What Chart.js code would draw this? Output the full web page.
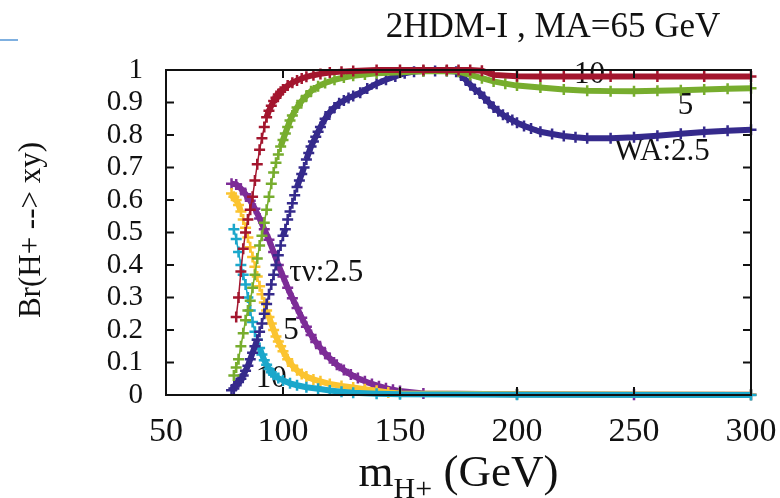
<!DOCTYPE html>
<html>
<head>
<meta charset="utf-8">
<script src="https://cdn.jsdelivr.net/npm/chart.js@4/dist/chart.umd.min.js"></script>
<style>
  body { margin: 0; background: #fff; }
  canvas { display: block; }
</style>
</head>
<body>
<canvas id="brChart" width="780" height="498"></canvas>
<script>
// x ticks and y ticks
const xTicks = [50, 100, 150, 200, 250, 300];
const yTicks = [0, 0.1, 0.2, 0.3, 0.4, 0.5, 0.6, 0.7, 0.8, 0.9, 1];

// WA, tan(beta)=10
const wa10X = [80, 81, 82, 83, 84, 85, 86, 87, 88, 89, 90, 91, 92, 93, 94, 95, 96, 97, 98, 99, 100, 102, 104, 106, 108, 110, 113, 116, 120, 125, 130, 140, 150, 160, 170, 175, 180, 185, 190, 200, 210, 220, 240, 260, 280, 300];
const wa10Y = [0.24, 0.30, 0.38, 0.45, 0.50, 0.54, 0.57, 0.61, 0.66, 0.71, 0.755, 0.79, 0.825, 0.855, 0.875, 0.89, 0.905, 0.915, 0.925, 0.933, 0.94, 0.952, 0.961, 0.968, 0.974, 0.979, 0.984, 0.988, 0.992, 0.995, 0.997, 1.0, 1.0, 1.0, 1.0, 1.0, 1.0, 0.998, 0.985, 0.981, 0.98, 0.98, 0.98, 0.98, 0.98, 0.98];

// WA, tan(beta)=5
const wa5X = [79, 80, 81, 82, 83, 84, 85, 86, 87, 88, 89, 90, 91, 92, 93, 94, 95, 96, 97, 98, 99, 100, 101, 102, 103, 104, 106, 108, 110, 112, 115, 118, 122, 126, 130, 135, 140, 150, 160, 170, 175, 180, 185, 190, 195, 200, 210, 220, 230, 240, 250, 260, 270, 280, 290, 300];
const wa5Y = [0.06, 0.085, 0.11, 0.15, 0.19, 0.23, 0.26, 0.29, 0.33, 0.37, 0.42, 0.46, 0.49, 0.53, 0.57, 0.61, 0.65, 0.685, 0.715, 0.74, 0.765, 0.785, 0.805, 0.825, 0.845, 0.86, 0.885, 0.905, 0.92, 0.935, 0.95, 0.96, 0.97, 0.977, 0.982, 0.986, 0.99, 0.993, 0.996, 0.997, 0.995, 0.985, 0.975, 0.965, 0.958, 0.952, 0.946, 0.94, 0.936, 0.935, 0.935, 0.936, 0.938, 0.94, 0.942, 0.944];

// WA, tan(beta)=2.5
const wa25X = [78, 79, 80, 81, 82, 83, 84, 85, 86, 87, 88, 89, 90, 91, 92, 93, 94, 95, 96, 97, 98, 99, 100, 101, 102, 103, 104, 105, 106, 107, 108, 109, 110, 111, 112, 113, 114, 115, 116, 118, 120, 122, 124, 126, 128, 130, 133, 136, 140, 144, 148, 152, 156, 160, 165, 170, 174, 176, 178, 180, 182, 184, 186, 188, 190, 192, 194, 196, 198, 200, 203, 206, 210, 215, 220, 225, 230, 240, 250, 260, 270, 280, 290, 300];
const wa25Y = [0.015, 0.02, 0.03, 0.04, 0.05, 0.06, 0.075, 0.09, 0.11, 0.13, 0.15, 0.17, 0.195, 0.22, 0.25, 0.28, 0.31, 0.34, 0.37, 0.40, 0.43, 0.46, 0.49, 0.51, 0.54, 0.565, 0.59, 0.615, 0.64, 0.66, 0.68, 0.70, 0.725, 0.745, 0.765, 0.78, 0.795, 0.81, 0.825, 0.85, 0.87, 0.885, 0.898, 0.906, 0.914, 0.92, 0.93, 0.943, 0.958, 0.97, 0.98, 0.99, 0.995, 0.997, 0.997, 0.997, 0.995, 0.985, 0.97, 0.955, 0.94, 0.93, 0.915, 0.9, 0.885, 0.873, 0.862, 0.853, 0.846, 0.838, 0.828, 0.82, 0.81, 0.803, 0.797, 0.793, 0.79, 0.79, 0.793, 0.798, 0.804, 0.809, 0.813, 0.816];

// tau nu, tan(beta)=2.5
const tn25X = [78, 80, 82, 84, 86, 88, 90, 92, 94, 96, 98, 100, 102, 104, 106, 108, 110, 112, 114, 116, 118, 120, 123, 126, 129, 132, 135, 138, 141, 144, 147, 150, 160, 200, 250, 300];
const tn25Y = [0.65, 0.648, 0.635, 0.618, 0.598, 0.573, 0.543, 0.51, 0.478, 0.44, 0.40, 0.365, 0.33, 0.298, 0.268, 0.238, 0.21, 0.185, 0.163, 0.145, 0.128, 0.113, 0.093, 0.077, 0.063, 0.052, 0.042, 0.034, 0.027, 0.021, 0.016, 0.012, 0.005, 0.002, 0.001, 0.001];

// tau nu, tan(beta)=5
const tn5X = [78, 79, 80, 81, 82, 83, 84, 85, 86, 87, 88, 89, 90, 91, 92, 93, 94, 95, 96, 97, 98, 99, 100, 102, 104, 106, 108, 110, 113, 116, 120, 125, 130, 135, 140, 145, 150, 200, 300];
const tn5Y = [0.62, 0.61, 0.60, 0.585, 0.565, 0.54, 0.515, 0.485, 0.455, 0.425, 0.395, 0.365, 0.335, 0.31, 0.285, 0.26, 0.24, 0.22, 0.20, 0.18, 0.165, 0.15, 0.135, 0.11, 0.09, 0.076, 0.065, 0.057, 0.048, 0.042, 0.034, 0.028, 0.023, 0.018, 0.013, 0.008, 0.005, 0.002, 0.001];

// tau nu, tan(beta)=10
const tn10X = [79, 80, 81, 82, 83, 84, 85, 86, 87, 88, 89, 90, 91, 92, 93, 94, 95, 96, 98, 100, 103, 106, 110, 115, 120, 125, 130, 140, 150, 200, 300];
const tn10Y = [0.51, 0.48, 0.44, 0.40, 0.37, 0.34, 0.30, 0.26, 0.225, 0.195, 0.17, 0.145, 0.125, 0.107, 0.093, 0.08, 0.07, 0.062, 0.052, 0.045, 0.036, 0.03, 0.024, 0.019, 0.014, 0.01, 0.007, 0.004, 0.002, 0.001, 0.0];

// curve labels (text and anchor in data units)
const curveLabels = [
    { text: '10', x: 231, y: 0.985 },
    { text: '5', x: 272, y: 0.889 },
    { text: 'WA:2.5', x: 262, y: 0.748 },
    { text: 'τν:2.5', x: 118.5, y: 0.375 },
    { text: '5', x: 103.4, y: 0.197 },
    { text: '10', x: 95, y: 0.049 }
];

const serif = '"Liberation Serif", "Times New Roman", serif';

function isSteep(ctx) {
    const dx = Math.abs(ctx.p1.x - ctx.p0.x);
    const dy = Math.abs(ctx.p1.y - ctx.p0.y);
    return dy > 3 * dx;
}

function makeSeries(xs, ys, color) {
    return {
        data: xs.map((x, i) => ({ x: x, y: ys[i] })),
        borderColor: color,
        backgroundColor: color,
        borderWidth: 6,
        pointStyle: 'cross',
        pointRadius: 5.5,
        pointBorderWidth: 2.5,
        pointBorderColor: color,
        pointHoverRadius: 5.5,
        tension: 0,
        clip: false,
        segment: {
            // steep parts: only a thin spine between the markers
            borderWidth: ctx => isSteep(ctx) ? 1.5 : 6
        }
    };
}

const overlay = {
    id: 'overlay',
    beforeDatasetsDraw(chart) {
        const ctx = chart.ctx;
        const xs = chart.scales.x;
        const ys = chart.scales.y;
        ctx.save();
        ctx.fillStyle = '#111';
        ctx.textAlign = 'center';
        ctx.textBaseline = 'middle';
        ctx.font = '31px ' + serif;
        curveLabels.forEach(l => {
            ctx.fillText(l.text, xs.getPixelForValue(l.x), ys.getPixelForValue(l.y));
        });
        ctx.restore();
    },
    afterDatasetsDraw(chart) {
        const ctx = chart.ctx;
        const a = chart.chartArea;
        const xs = chart.scales.x;
        const ys = chart.scales.y;
        const len = 8;
        ctx.save();
        ctx.strokeStyle = '#111';
        ctx.lineWidth = 2;
        ctx.strokeRect(a.left, a.top, a.right - a.left, a.bottom - a.top);
        ctx.beginPath();
        xTicks.forEach(v => {
            const px = xs.getPixelForValue(v);
            ctx.moveTo(px, a.bottom); ctx.lineTo(px, a.bottom - len);
            ctx.moveTo(px, a.top); ctx.lineTo(px, a.top + len);
        });
        yTicks.forEach(v => {
            const py = ys.getPixelForValue(v);
            ctx.moveTo(a.left, py); ctx.lineTo(a.left + len, py);
            ctx.moveTo(a.right, py); ctx.lineTo(a.right - len, py);
        });
        ctx.stroke();
        ctx.restore();
    },
    afterDraw(chart) {
        const ctx = chart.ctx;
        const a = chart.chartArea;
        ctx.save();

        // small blue mark at the top left of the original screenshot
        ctx.strokeStyle = '#7fb0e0';
        ctx.lineWidth = 2;
        ctx.beginPath();
        ctx.moveTo(0, 40); ctx.lineTo(18, 40);
        ctx.stroke();

        ctx.fillStyle = '#111';
        ctx.textBaseline = 'alphabetic';

        // title
        ctx.textAlign = 'center';
        ctx.font = '35px ' + serif;
        ctx.fillText('2HDM-I , MA=65 GeV', 553, 37);

        // x axis title with subscript
        const cx = (a.left + a.right) / 2;
        ctx.font = '45px ' + serif;
        const mW = ctx.measureText('m').width;
        const restW = ctx.measureText(' (GeV)').width;
        ctx.font = '30px ' + serif;
        const subW = ctx.measureText('H+').width;
        const x0 = cx - (mW + subW + restW) / 2;
        ctx.textAlign = 'left';
        ctx.font = '45px ' + serif;
        ctx.fillText('m', x0, 486);
        ctx.font = '30px ' + serif;
        ctx.fillText('H+', x0 + mW, 498);
        ctx.font = '45px ' + serif;
        ctx.fillText(' (GeV)', x0 + mW + subW, 486);

        // y axis title
        ctx.translate(32, 230);
        ctx.rotate(-Math.PI / 2);
        ctx.textAlign = 'center';
        ctx.textBaseline = 'middle';
        ctx.font = '31px ' + serif;
        ctx.fillText('Br(H+ --> xy)', 0, 0);
        ctx.restore();
    }
};

new Chart(document.getElementById('brChart'), {
    type: 'line',
    data: {
        datasets: [
            makeSeries(wa10X, wa10Y, '#a3162e'),
            makeSeries(wa5X, wa5Y, '#77ad2e'),
            makeSeries(wa25X, wa25Y, '#352a8c'),
            makeSeries(tn10X, tn10Y, '#1ba7cb'),
            makeSeries(tn5X, tn5Y, '#fbc430'),
            makeSeries(tn25X, tn25Y, '#7d2c97')
        ]
    },
    options: {
        responsive: false,
        animation: false,
        devicePixelRatio: 1,
        layout: { padding: { top: 70, right: 29, left: 0, bottom: 0 } },
        plugins: {
            legend: { display: false },
            tooltip: { enabled: false },
            title: { display: false }
        },
        scales: {
            x: {
                type: 'linear',
                min: 50,
                max: 300,
                afterFit: s => { s.height = 103; s.paddingLeft = 0; s.paddingRight = 0; },
                afterBuildTicks: s => { s.ticks = xTicks.map(v => ({ value: v })); },
                grid: { display: false, drawTicks: false },
                border: { display: false },
                ticks: {
                    color: '#111',
                    padding: 17,
                    maxRotation: 0,
                    autoSkip: false,
                    font: { family: serif, size: 34 }
                }
            },
            y: {
                type: 'linear',
                min: 0,
                max: 1,
                afterFit: s => { s.width = 166; s.paddingTop = 0; s.paddingBottom = 0; },
                afterBuildTicks: s => { s.ticks = yTicks.map(v => ({ value: v })); },
                grid: { display: false, drawTicks: false },
                border: { display: false },
                ticks: {
                    color: '#111',
                    padding: 23,
                    autoSkip: false,
                    font: { family: serif, size: 29 },
                    callback: v => String(Math.round(v * 10) / 10)
                }
            }
        }
    },
    plugins: [overlay]
});
</script>
</body>
</html>
